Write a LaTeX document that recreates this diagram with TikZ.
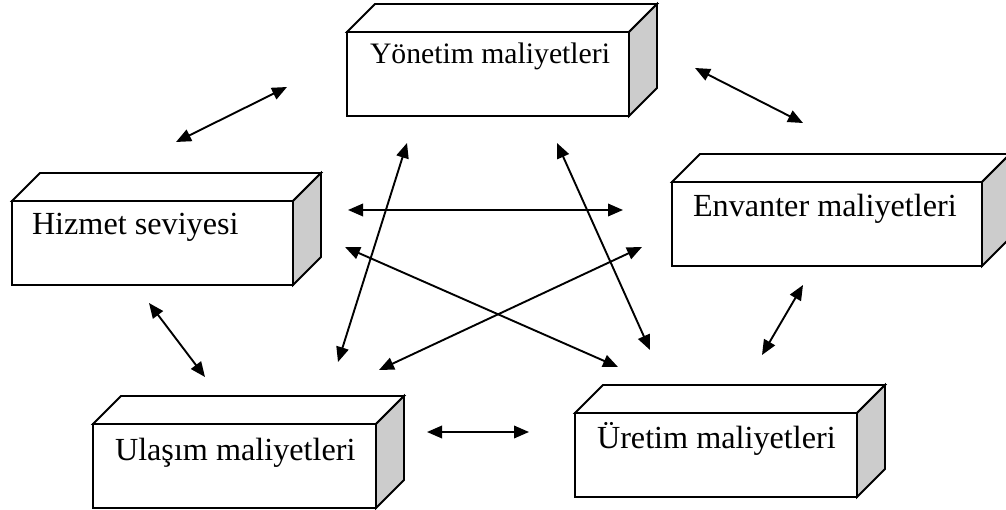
\documentclass[tikz,border=0pt]{standalone}
\usepackage{fontspec}
\setmainfont{Liberation Serif}
\usetikzlibrary{arrows.meta,calc}

\tikzset{
  front/.style={draw, fill=white, line width=1.8pt, minimum height=84pt,
                inner sep=0pt, outer sep=0pt, anchor=north west},
  face/.style={draw, line width=1.8pt, line join=miter},
  topface/.style={face, fill=white},
  sideface/.style={face, fill=black!20},
  boxtext/.style={anchor=base west, inner sep=0pt, outer sep=0pt,
                  font=\fontsize{32.2}{38}\selectfont},
  link/.style={{Triangle[length=15pt,width=12.5pt]}-{Triangle[length=15pt,width=12.5pt]},
               line width=1.9pt},
}

% a cuboid: front face as a node, then its top and right faces
% #1 name, #2 x, #3 y of the front face's top left corner, #4 width
\newcommand\cuboid[4]{%
  \node[front, minimum width=#4pt] (#1) at (#2,#3) {};
  \draw[topface] (#1.north west) -- ++(28,-28) -- ++(#4,0) -- (#1.north east) -- cycle;
  \draw[sideface] (#1.north east) -- ++(28,-28) -- ++(0,84) -- (#1.south east) -- cycle;
}

\begin{document}
\begin{tikzpicture}[x=1pt, y=-1pt]
  \useasboundingbox (0,0) rectangle (1006,510);

  % the five cost blocks
  \cuboid{yon}{347}{32}{282}
  \cuboid{hiz}{12}{201}{281}
  \cuboid{env}{672}{182}{310}
  \cuboid{ula}{93}{424}{283}
  \cuboid{ure}{575}{413}{282}

  \node[boxtext, font=\fontsize{29.7}{36}\selectfont] (yon-t)
       at ($(yon.north west)+(23,32)$) {Yönetim maliyetleri};
  \node[boxtext] (hiz-t) at ($(hiz.north west)+(20,34)$) {Hizmet seviyesi};
  \node[boxtext] (env-t) at ($(env.north west)+(21,35)$) {Envanter maliyetleri};
  \node[boxtext] (ula-t) at ($(ula.north west)+(22,36)$) {Ulaşım maliyetleri};
  \node[boxtext] (ure-t) at ($(ure.north west)+(22,35)$) {Üretim maliyetleri};

  % arrow ends between the blocks
  \coordinate (hy1) at (176,142);  \coordinate (hy2) at (287,87);
  \coordinate (ye1) at (695,68);   \coordinate (ye2) at (803,123);
  \coordinate (hu1) at (149,303);  \coordinate (hu2) at (205,377);
  \coordinate (eu1) at (803,285);  \coordinate (eu2) at (762,355);
  \coordinate (uu1) at (427,432);  \coordinate (uu2) at (529,432);
  \coordinate (he1) at (348,210);  \coordinate (he2) at (623,210);
  \coordinate (yl1) at (407,143);  \coordinate (yl2) at (338,362);
  \coordinate (yr1) at (557,143);  \coordinate (yr2) at (650,350);
  \coordinate (hr1) at (345,247);  \coordinate (hr2) at (618,367);
  \coordinate (el1) at (642,247);  \coordinate (el2) at (379,370);

  \draw[link] (hy1) -- (hy2);
  \draw[link] (ye1) -- (ye2);
  \draw[link] (hu1) -- (hu2);
  \draw[link] (eu1) -- (eu2);
  \draw[link] (uu1) -- (uu2);
  \draw[link] (he1) -- (he2);
  \draw[link] (yl1) -- (yl2);
  \draw[link] (yr1) -- (yr2);
  \draw[link] (hr1) -- (hr2);
  \draw[link] (el1) -- (el2);
\end{tikzpicture}
\end{document}
